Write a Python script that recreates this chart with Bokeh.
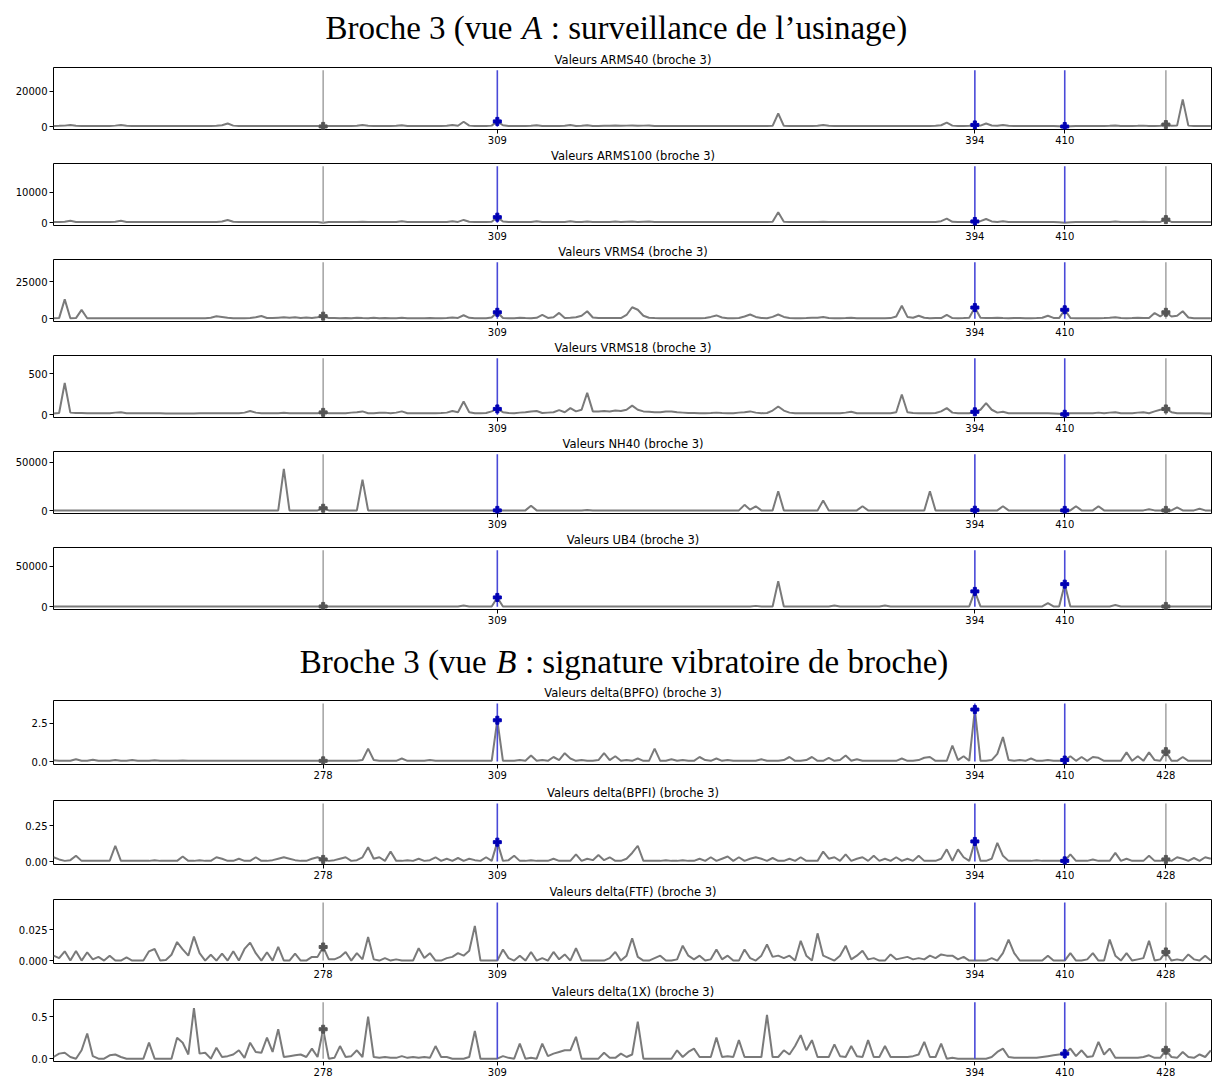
from bokeh.plotting import figure
from bokeh.layouts import column
from bokeh.models import Range1d, FixedTicker
from bokeh.core.properties import value
from bokeh.embed import file_html
from bokeh.resources import INLINE

# ---------------- data ----------------
x_index = list(range(230, 437))          # measurement index (x axis)
gray_events = [278, 428]
blue_events = [309, 394, 410]
ticks_A = [309, 394, 410]
ticks_B = [278, 309, 394, 410, 428]

arms40 = [
    450, 500, 600, 1000, 500, 450, 450, 450, 450, 450,
    450, 600, 900, 500, 450, 450, 450, 450, 450, 450,
    450, 450, 450, 450, 450, 450, 450, 450, 450, 500,
    800, 1800, 600, 450, 450, 450, 450, 450, 450, 450,
    450, 450, 450, 450, 450, 450, 450, 450, 150, 450,
    450, 450, 450, 450, 500, 900, 500, 450, 450, 450,
    450, 500, 800, 450, 450, 450, 450, 450, 450, 450,
    500, 900, 500, 2800, 600, 450, 450, 450, 600, 3000,
    800, 450, 450, 450, 450, 500, 800, 450, 450, 450,
    450, 500, 900, 450, 500, 800, 450, 450, 500, 500,
    700, 500, 600, 700, 500, 600, 700, 450, 450, 450,
    450, 450, 450, 450, 450, 450, 450, 450, 450, 450,
    450, 450, 450, 450, 450, 450, 450, 450, 500, 7500,
    500, 450, 450, 450, 450, 450, 500, 900, 500, 450,
    450, 450, 450, 450, 450, 450, 450, 450, 450, 450,
    450, 450, 450, 450, 450, 450, 450, 500, 800, 2300,
    600, 450, 450, 500, 1000, 600, 1800, 700, 500, 900,
    500, 450, 450, 450, 450, 450, 450, 450, 450, 300,
    100, 300, 450, 450, 450, 450, 450, 450, 500, 700,
    450, 450, 450, 500, 600, 450, 450, 500, 1200, 500,
    600, 15500, 600, 450, 450, 450, 450,
]

arms100 = [
    200, 250, 300, 600, 250, 200, 200, 200, 200, 200,
    200, 300, 600, 250, 200, 200, 200, 200, 200, 200,
    200, 200, 200, 200, 200, 200, 200, 200, 200, 250,
    400, 900, 300, 200, 200, 200, 200, 200, 200, 200,
    200, 200, 200, 200, 200, 200, 200, 200, 0, 200,
    200, 200, 200, 200, 200, 300, 200, 200, 200, 200,
    200, 250, 500, 200, 200, 200, 200, 200, 200, 200,
    250, 500, 250, 900, 300, 200, 200, 200, 300, 1800,
    400, 200, 200, 200, 200, 250, 500, 200, 200, 200,
    200, 250, 500, 200, 250, 400, 200, 200, 250, 250,
    350, 250, 300, 350, 250, 300, 350, 200, 200, 200,
    200, 200, 200, 200, 200, 200, 200, 200, 200, 200,
    200, 200, 200, 200, 200, 200, 200, 200, 300, 3400,
    300, 200, 200, 200, 200, 200, 250, 300, 250, 200,
    200, 200, 200, 200, 200, 200, 200, 200, 200, 200,
    200, 200, 200, 200, 200, 200, 200, 250, 500, 1300,
    300, 200, 200, 250, 400, 500, 1200, 400, 250, 500,
    250, 200, 200, 200, 200, 200, 200, 200, 200, 150,
    0, 150, 200, 200, 200, 200, 200, 200, 250, 400,
    200, 200, 200, 250, 300, 200, 200, 250, 1000, 250,
    200, 200, 200, 200, 200, 200, 200,
]

vrms4 = [
    300, 400, 13000, 300, 400, 5900, 300, 250, 250, 250,
    250, 250, 250, 250, 250, 250, 250, 250, 250, 250,
    250, 250, 250, 250, 250, 250, 250, 250, 600, 1600,
    1100, 600, 300, 300, 300, 400, 900, 1800, 500, 400,
    700, 1000, 600, 900, 400, 800, 400, 900, 1700, 500,
    400, 300, 500, 300, 700, 400, 300, 600, 300, 400,
    300, 300, 600, 300, 300, 300, 300, 400, 300, 300,
    400, 800, 500, 2300, 600, 300, 300, 300, 800, 4300,
    500, 300, 300, 600, 400, 300, 600, 2500, 500, 1000,
    3900, 500, 700, 1000, 2000, 5000, 800, 500, 400, 400,
    400, 400, 2500, 7700, 6000, 2000, 600, 400, 300, 300,
    300, 300, 300, 300, 300, 300, 500, 1200, 2200, 800,
    300, 300, 500, 1500, 2800, 1200, 500, 300, 1200, 2800,
    1200, 500, 300, 300, 400, 700, 600, 1200, 400, 300,
    300, 400, 700, 300, 300, 300, 300, 300, 300, 400,
    1500, 8700, 1200, 600, 2000, 600, 300, 500, 400, 2500,
    400, 300, 400, 600, 7500, 600, 400, 500, 600, 400,
    300, 500, 400, 300, 300, 400, 600, 2000, 500, 400,
    6000, 500, 300, 300, 300, 300, 300, 400, 600, 1000,
    400, 300, 400, 700, 500, 400, 3800, 1500, 4300, 1500,
    2000, 5000, 800, 300, 300, 300, 300,
]

vrms18 = [
    15, 20, 385, 25, 20, 20, 18, 18, 18, 18,
    18, 25, 30, 18, 18, 18, 18, 18, 18, 18,
    15, 15, 15, 15, 15, 15, 18, 18, 18, 18,
    18, 18, 18, 18, 25, 45, 25, 18, 18, 18,
    18, 22, 18, 18, 18, 18, 18, 18, 28, 18,
    18, 18, 18, 25, 30, 40, 18, 18, 22, 25,
    18, 25, 40, 18, 18, 18, 18, 18, 18, 20,
    25, 45, 30, 160, 30, 18, 18, 20, 40, 70,
    30, 20, 18, 25, 30, 40, 45, 20, 25, 30,
    55, 30, 80, 40, 60, 265, 40, 40, 45, 40,
    50, 45, 60, 110, 60, 40, 35, 30, 30, 40,
    40, 30, 25, 20, 20, 18, 18, 20, 25, 20,
    18, 18, 25, 30, 40, 25, 18, 20, 50, 100,
    50, 25, 18, 18, 18, 18, 18, 18, 18, 18,
    18, 25, 35, 18, 18, 18, 18, 18, 18, 18,
    30, 245, 30, 20, 18, 18, 18, 20, 40, 80,
    25, 18, 18, 18, 35, 60, 140, 60, 25, 35,
    18, 18, 18, 18, 18, 18, 18, 18, 15, 10,
    5, 18, 18, 18, 18, 18, 25, 18, 25, 30,
    18, 18, 18, 25, 30, 18, 40, 60, 70, 30,
    18, 18, 18, 18, 18, 15, 15,
]

nh40 = [
    300, 300, 300, 300, 300, 300, 300, 300, 300, 300,
    300, 300, 300, 300, 300, 300, 300, 300, 300, 300,
    300, 300, 300, 300, 300, 300, 300, 300, 300, 300,
    300, 300, 300, 300, 300, 300, 300, 300, 300, 300,
    300, 43000, 300, 300, 300, 300, 300, 300, 2500, 300,
    300, 300, 300, 300, 300, 32000, 300, 300, 300, 300,
    300, 300, 300, 300, 300, 300, 300, 300, 300, 300,
    300, 300, 300, 300, 300, 300, 300, 300, 300, 300,
    300, 300, 300, 300, 300, 5000, 300, 300, 300, 300,
    300, 300, 300, 300, 300, 800, 300, 300, 300, 300,
    300, 300, 300, 300, 300, 300, 300, 300, 300, 300,
    300, 300, 300, 300, 300, 300, 300, 300, 300, 300,
    300, 300, 300, 6000, 1000, 4500, 300, 300, 300, 20000,
    300, 300, 300, 300, 300, 300, 300, 10500, 300, 300,
    300, 300, 300, 300, 4500, 300, 300, 300, 300, 300,
    300, 300, 300, 300, 300, 300, 20000, 300, 300, 300,
    300, 300, 300, 300, 500, 300, 300, 300, 300, 4500,
    300, 300, 300, 300, 300, 300, 300, 300, 300, 300,
    300, 300, 4500, 300, 300, 300, 4500, 300, 300, 300,
    300, 300, 300, 300, 300, 1500, 300, 300, 300, 300,
    3500, 300, 300, 300, 2000, 300, 300,
]

ub4 = [
    300, 300, 300, 300, 300, 300, 300, 300, 300, 300,
    300, 300, 300, 300, 300, 300, 300, 300, 300, 300,
    300, 300, 300, 300, 300, 300, 300, 300, 300, 300,
    300, 300, 300, 300, 300, 300, 300, 300, 300, 300,
    300, 300, 300, 300, 300, 300, 300, 300, 300, 300,
    300, 300, 300, 300, 300, 300, 300, 300, 300, 300,
    300, 300, 300, 300, 300, 300, 300, 300, 300, 300,
    300, 300, 300, 1500, 300, 300, 300, 300, 300, 11500,
    300, 300, 300, 300, 300, 300, 300, 300, 300, 300,
    300, 300, 300, 300, 300, 300, 300, 300, 300, 300,
    300, 300, 300, 300, 300, 300, 300, 300, 300, 300,
    300, 300, 300, 300, 300, 300, 300, 300, 300, 300,
    300, 300, 300, 300, 300, 1000, 300, 300, 300, 31500,
    300, 300, 300, 300, 300, 300, 300, 300, 300, 1500,
    300, 300, 300, 300, 300, 300, 300, 300, 1500, 300,
    300, 300, 300, 300, 300, 300, 300, 300, 300, 300,
    300, 300, 300, 300, 19000, 300, 300, 300, 300, 300,
    300, 300, 300, 300, 300, 300, 300, 4500, 300, 300,
    28000, 300, 300, 300, 300, 300, 300, 300, 300, 2000,
    300, 300, 300, 300, 300, 300, 300, 300, 300, 300,
    300, 300, 300, 300, 300, 300, 300,
]

d_bpfo = [
    0.08, 0.06, 0.05, 0.05, 0.15, 0.05, 0.05, 0.12, 0.05, 0.05,
    0.05, 0.10, 0.05, 0.05, 0.10, 0.05, 0.05, 0.05, 0.08, 0.05,
    0.05, 0.05, 0.05, 0.07, 0.05, 0.05, 0.05, 0.05, 0.05, 0.05,
    0.05, 0.06, 0.05, 0.05, 0.05, 0.05, 0.05, 0.05, 0.05, 0.05,
    0.05, 0.05, 0.05, 0.05, 0.05, 0.05, 0.05, 0.05, 0.05, 0.05,
    0.05, 0.05, 0.05, 0.05, 0.05, 0.10, 0.85, 0.10, 0.05, 0.05,
    0.05, 0.05, 0.20, 0.05, 0.05, 0.05, 0.05, 0.10, 0.05, 0.05,
    0.05, 0.05, 0.05, 0.05, 0.05, 0.05, 0.05, 0.05, 0.05, 2.70,
    0.05, 0.05, 0.05, 0.10, 0.05, 0.40, 0.05, 0.10, 0.05, 0.30,
    0.10, 0.55, 0.20, 0.05, 0.10, 0.05, 0.05, 0.10, 0.55, 0.10,
    0.35, 0.05, 0.10, 0.05, 0.20, 0.05, 0.05, 0.85, 0.05, 0.05,
    0.15, 0.05, 0.10, 0.05, 0.05, 0.30, 0.10, 0.05, 0.20, 0.05,
    0.10, 0.05, 0.05, 0.05, 0.05, 0.05, 0.15, 0.05, 0.05, 0.05,
    0.10, 0.30, 0.05, 0.05, 0.10, 0.30, 0.05, 0.05, 0.25, 0.05,
    0.10, 0.40, 0.05, 0.15, 0.05, 0.05, 0.05, 0.05, 0.05, 0.05,
    0.05, 0.20, 0.05, 0.05, 0.10, 0.25, 0.30, 0.05, 0.05, 0.05,
    1.05, 0.10, 0.35, 0.05, 3.40, 0.05, 0.05, 0.10, 0.50, 1.60,
    0.10, 0.05, 0.10, 0.05, 0.20, 0.05, 0.05, 0.10, 0.05, 0.05,
    0.10, 0.35, 0.05, 0.30, 0.05, 0.30, 0.25, 0.05, 0.05, 0.05,
    0.05, 0.60, 0.05, 0.35, 0.05, 0.60, 0.10, 0.05, 0.65, 0.05,
    0.05, 0.30, 0.05, 0.05, 0.05, 0.05, 0.05,
]

d_bpfi = [
    0.03, 0.015, 0.005, 0.01, 0.04, 0.005, 0.005, 0.005, 0.005, 0.005,
    0.005, 0.11, 0.005, 0.005, 0.005, 0.005, 0.005, 0.005, 0.01, 0.005,
    0.005, 0.005, 0.005, 0.035, 0.005, 0.005, 0.01, 0.005, 0.005, 0.03,
    0.02, 0.005, 0.005, 0.02, 0.005, 0.005, 0.03, 0.005, 0.005, 0.01,
    0.02, 0.03, 0.02, 0.01, 0.005, 0.005, 0.02, 0.03, 0.015, 0.005,
    0.01, 0.02, 0.03, 0.005, 0.01, 0.03, 0.10, 0.02, 0.03, 0.005,
    0.07, 0.005, 0.005, 0.01, 0.005, 0.02, 0.005, 0.01, 0.03, 0.005,
    0.02, 0.005, 0.025, 0.005, 0.02, 0.01, 0.005, 0.03, 0.005, 0.135,
    0.005, 0.01, 0.04, 0.005, 0.005, 0.01, 0.005, 0.005, 0.005, 0.02,
    0.005, 0.005, 0.005, 0.05, 0.005, 0.02, 0.01, 0.045, 0.01, 0.03,
    0.005, 0.005, 0.02, 0.06, 0.11, 0.005, 0.005, 0.005, 0.005, 0.01,
    0.005, 0.005, 0.01, 0.005, 0.005, 0.02, 0.005, 0.03, 0.005, 0.02,
    0.035, 0.005, 0.03, 0.005, 0.02, 0.03, 0.02, 0.005, 0.025, 0.005,
    0.005, 0.02, 0.005, 0.03, 0.005, 0.005, 0.005, 0.07, 0.02, 0.03,
    0.005, 0.05, 0.005, 0.02, 0.03, 0.005, 0.04, 0.005, 0.02, 0.005,
    0.03, 0.005, 0.02, 0.005, 0.04, 0.005, 0.005, 0.005, 0.02, 0.085,
    0.005, 0.085, 0.03, 0.005, 0.14, 0.005, 0.005, 0.02, 0.13, 0.04,
    0.005, 0.005, 0.005, 0.005, 0.005, 0.01, 0.005, 0.005, 0.005, 0.005,
    0.005, 0.05, 0.005, 0.005, 0.005, 0.015, 0.005, 0.005, 0.005, 0.06,
    0.005, 0.02, 0.005, 0.005, 0.005, 0.04, 0.005, 0.005, 0.015, 0.005,
    0.03, 0.02, 0.005, 0.025, 0.005, 0.03, 0.02,
]

d_ftf = [
    0.004, 0.002, 0.0075, 0.0, 0.0078, 0.0, 0.0067, 0.001, 0.003, 0.0,
    0.004, 0.0, 0.0, 0.0025, 0.0, 0.0, 0.0, 0.0075, 0.0094, 0.0,
    0.0005, 0.0047, 0.015, 0.009, 0.004, 0.0194, 0.006, 0.0, 0.0047, 0.0,
    0.0056, 0.0, 0.0075, 0.0, 0.0094, 0.0145, 0.006, 0.0, 0.0067, 0.0,
    0.011, 0.0, 0.0, 0.0056, 0.0, 0.0, 0.003, 0.003, 0.011, 0.001,
    0.001, 0.003, 0.007, 0.0, 0.006, 0.001, 0.019, 0.001, 0.0, 0.002,
    0.0, 0.001, 0.0, 0.0, 0.0, 0.01, 0.002, 0.006, 0.0, 0.0,
    0.002, 0.003, 0.006, 0.004, 0.008, 0.028, 0.0, 0.0, 0.0, 0.0,
    0.009, 0.002, 0.0, 0.004, 0.0, 0.007, 0.0, 0.002, 0.0, 0.007,
    0.001, 0.005, 0.0, 0.01, 0.0, 0.0, 0.0, 0.0, 0.0, 0.002,
    0.007, 0.0, 0.004, 0.018, 0.003, 0.0, 0.0, 0.002, 0.004, 0.0,
    0.0, 0.001, 0.012, 0.004, 0.001, 0.004, 0.0, 0.001, 0.009, 0.001,
    0.004, 0.0, 0.0, 0.009, 0.002, 0.0, 0.004, 0.013, 0.003, 0.004,
    0.002, 0.004, 0.0, 0.016, 0.004, 0.0, 0.022, 0.004, 0.002, 0.0,
    0.004, 0.012, 0.001, 0.004, 0.008, 0.001, 0.002, 0.0, 0.0, 0.005,
    0.001, 0.002, 0.003, 0.001, 0.002, 0.001, 0.004, 0.002, 0.005, 0.004,
    0.004, 0.001, 0.003, 0.0, 0.0, 0.0, 0.0, 0.002, 0.0, 0.006,
    0.017, 0.006, 0.0, 0.0, 0.0, 0.0, 0.0, 0.004, 0.0, 0.0,
    0.0, 0.006, 0.0, 0.0, 0.001, 0.006, 0.0, 0.0, 0.017, 0.004,
    0.0, 0.006, 0.0, 0.001, 0.002, 0.016, 0.0, 0.001, 0.007, 0.0,
    0.001, 0.0, 0.005, 0.001, 0.0, 0.004, 0.0,
]

d_1x = [
    0.02, 0.06, 0.07, 0.02, 0.0, 0.1, 0.3, 0.03, 0.0, 0.0,
    0.04, 0.05, 0.02, 0.0, 0.0, 0.0, 0.0, 0.19, 0.0, 0.0,
    0.0, 0.0, 0.25, 0.19, 0.05, 0.6, 0.06, 0.07, 0.0, 0.13,
    0.02, 0.03, 0.05, 0.1, 0.01, 0.19, 0.08, 0.07, 0.25, 0.08,
    0.35, 0.02, 0.03, 0.04, 0.05, 0.02, 0.12, 0.02, 0.35, 0.0,
    0.01, 0.15, 0.02, 0.03, 0.1, 0.02, 0.5, 0.02, 0.01, 0.02,
    0.01, 0.01, 0.03, 0.01, 0.02, 0.01, 0.02, 0.01, 0.15, 0.02,
    0.02, 0.0, 0.0, 0.0, 0.02, 0.33, 0.0, 0.0, 0.0, 0.0,
    0.03, 0.01, 0.0, 0.18, 0.0, 0.01, 0.0, 0.18, 0.03, 0.06,
    0.08, 0.1, 0.1, 0.26, 0.0, 0.0, 0.0, 0.0, 0.07, 0.01,
    0.01, 0.06, 0.02, 0.05, 0.44, 0.0, 0.0, 0.0, 0.0, 0.0,
    0.0, 0.1, 0.02, 0.08, 0.12, 0.02, 0.02, 0.02, 0.25, 0.02,
    0.03, 0.02, 0.22, 0.02, 0.02, 0.02, 0.02, 0.52, 0.02, 0.02,
    0.1, 0.05, 0.15, 0.28, 0.1, 0.22, 0.02, 0.02, 0.02, 0.17,
    0.03, 0.02, 0.15, 0.03, 0.02, 0.22, 0.02, 0.02, 0.15, 0.02,
    0.02, 0.02, 0.02, 0.03, 0.05, 0.2, 0.02, 0.02, 0.18, 0.0,
    0.01, 0.0, 0.0, 0.0, 0.0, 0.0, 0.0, 0.02, 0.08, 0.12,
    0.02, 0.01, 0.01, 0.01, 0.01, 0.01, 0.02, 0.03, 0.04, 0.05,
    0.06, 0.12, 0.03, 0.1, 0.02, 0.03, 0.2, 0.05, 0.12, 0.01,
    0.01, 0.01, 0.01, 0.01, 0.02, 0.04, 0.01, 0.01, 0.1, 0.02,
    0.01, 0.08, 0.02, 0.01, 0.05, 0.02, 0.1,
]

section_titles = [("Broche 3 (vue", "A", ": surveillance de l\u2019usinage)"),
                  ("Broche 3 (vue", "B", ": signature vibratoire de broche)")]

# (title, values, vertical-line top, y ticks, y tick labels)
panels_A = [
    ("Valeurs ARMS40 (broche 3)", arms40, 32000, [0, 20000], ["0", "20000"]),
    ("Valeurs ARMS100 (broche 3)", arms100, 18400, [0, 10000], ["0", "10000"]),
    ("Valeurs VRMS4 (broche 3)", vrms4, 38000, [0, 25000], ["0", "25000"]),
    ("Valeurs VRMS18 (broche 3)", vrms18, 685, [0, 500], ["0", "500"]),
    ("Valeurs NH40 (broche 3)", nh40, 58000, [0, 50000], ["0", "50000"]),
    ("Valeurs UB4 (broche 3)", ub4, 70000, [0, 50000], ["0", "50000"]),
]
panels_B = [
    ("Valeurs delta(BPFO) (broche 3)", d_bpfo, 3.8, [0, 2.5], ["0.0", "2.5"]),
    ("Valeurs delta(BPFI) (broche 3)", d_bpfi, 0.404, [0, 0.25], ["0.00", "0.25"]),
    ("Valeurs delta(FTF) (broche 3)", d_ftf, 0.047, [0, 0.025], ["0.000", "0.025"]),
    ("Valeurs delta(1X) (broche 3)", d_1x, 0.67, [0, 0.5], ["0.0", "0.5"]),
]

for _, vals, *_r in panels_A + panels_B:
    assert len(vals) == len(x_index), len(vals)

# ---------------- styling ----------------
LEFT = 53
FRAME_W = 1159
W = LEFT + FRAME_W
X_START, X_END = 230.0, 436.3
LINE_COLOR = "#7a7a7a"
GRAY_V = "#a8a8a8"
BLUE_V = "#4a4ad8"
BLUE_M = "#0000b4"
GRAY_M = "#555555"
SANS = "DejaVu Sans"


def header(h, yc, parts, xs):
    p = figure(width=W, height=h, x_range=Range1d(0, W), y_range=Range1d(h, 0),
               output_backend="svg", toolbar_location=None, min_border=0,
               x_axis_type=None, y_axis_type=None)
    p.outline_line_color = None
    p.xgrid.visible = False
    p.ygrid.visible = False
    left, mid, right = parts
    common = dict(text_baseline="middle", text_font=value("Liberation Serif"),
                  text_font_size="33px", text_color="black")
    p.text(x=[xs[0]], y=[yc], text=[left], text_align="right", **common)
    p.text(x=[xs[1]], y=[yc], text=[mid], text_align="left", text_font_style="italic", **common)
    p.text(x=[xs[2]], y=[yc], text=[right], text_align="left", **common)
    return p


def panel(spec, xticks, top, frame_h, bottom):
    title, vals, ymax, yt, yl = spec
    p = figure(width=W, height=top + frame_h + bottom,
               x_range=Range1d(X_START, X_END),
               y_range=Range1d(-0.05 * ymax, 1.05 * ymax),
               output_backend="svg", toolbar_location=None,
               min_border_left=LEFT, min_border_right=0,
               min_border_top=top, min_border_bottom=bottom)
    p.title.text = title
    p.title.align = "center"
    p.title.text_font = SANS
    p.title.text_font_size = "11.5px"
    p.title.text_font_style = "normal"
    p.title.text_color = "black"
    p.title.standoff = 1
    p.title.offset = 0
    p.outline_line_color = "black"
    p.outline_line_width = 1
    p.outline_line_alpha = 1
    p.xgrid.visible = False
    p.ygrid.visible = False
    for ax, ticks, labels in ((p.xaxis[0], xticks, [str(t) for t in xticks]), (p.yaxis[0], yt, yl)):
        ax.ticker = FixedTicker(ticks=ticks)
        ax.major_label_overrides = {t: lab for t, lab in zip(ticks, labels)}
        ax.axis_line_color = None
        ax.minor_tick_line_color = None
        ax.major_tick_out = 4
        ax.major_tick_in = 0
        ax.major_tick_line_color = "black"
        ax.major_label_text_font = SANS
        ax.major_label_text_font_size = "10px"
        ax.major_label_text_color = "black"
        ax.major_label_standoff = 2

    p.line(x_index, vals, line_color=LINE_COLOR, line_width=2)
    p.segment(x0=gray_events, y0=[0] * len(gray_events), x1=gray_events,
              y1=[ymax] * len(gray_events), line_color=GRAY_V, line_width=1.6)
    p.segment(x0=blue_events, y0=[0] * len(blue_events), x1=blue_events,
              y1=[ymax] * len(blue_events), line_color=BLUE_V, line_width=1.6)
    lookup = dict(zip(x_index, vals))
    gx = [e for e in gray_events if lookup[e] > 0]
    bx = [e for e in blue_events if lookup[e] > 0]
    p.scatter(gx, [lookup[e] for e in gx], marker="plus", size=8, color=GRAY_M)
    p.scatter(bx, [lookup[e] for e in bx], marker="plus", size=8, color=BLUE_M)
    return p


items = [header(50, 27, section_titles[0], (480, 490, 520))]
for spec in panels_A:
    items.append(panel(spec, ticks_A, 17, 62, 17))
items.append(header(57, 35, section_titles[1], (453, 463, 493)))
b_sizes = [(17, 64, 19), (17, 64, 18), (17, 64, 19), (17, 62, 17)]
for spec, (t, f, b) in zip(panels_B, b_sizes):
    items.append(panel(spec, ticks_B, t, f, b))

layout = column(*items, spacing=0)
open("out.html", "w", encoding="utf-8").write(file_html(layout, INLINE))
